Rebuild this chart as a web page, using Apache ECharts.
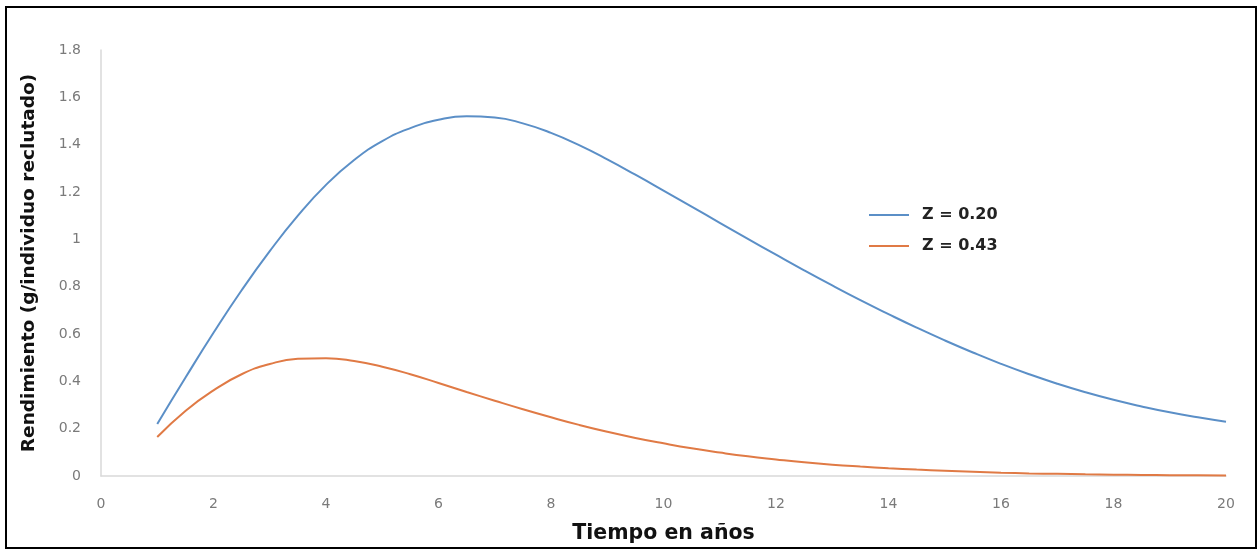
<!DOCTYPE html>
<html>
<head>
<meta charset="utf-8">
<script src="https://cdn.jsdelivr.net/npm/echarts@6/dist/echarts.min.js"></script>
<style>
  html, body { margin: 0; padding: 0; background: #fff; }
  #chart { width: 1260px; height: 550px; }
</style>
</head>
<body>
<div id="chart"></div>
<script>
// Years after recruitment, half-year steps
const years = [1, 1.5, 2, 2.5, 3, 3.5, 4, 4.5, 5, 5.5, 6, 6.5, 7, 7.5, 8, 8.5, 9, 9.5, 10, 10.5,
               11, 11.5, 12, 12.5, 13, 13.5, 14, 14.5, 15, 15.5, 16, 16.5, 17, 17.5, 18, 18.5, 19, 19.5, 20];
// Yield per recruit, Z = 0.20
const yieldZ020 = [0.22, 0.415, 0.605, 0.785, 0.95, 1.10, 1.23, 1.335, 1.415, 1.47, 1.505, 1.52, 1.515, 1.49, 1.45, 1.398, 1.338, 1.273, 1.206, 1.138,
                   1.07, 1.002, 0.935, 0.869, 0.805, 0.743, 0.684, 0.627, 0.573, 0.522, 0.474, 0.43, 0.39, 0.354, 0.322, 0.294, 0.269, 0.248, 0.229];
// Yield per recruit, Z = 0.43
const yieldZ043 = [0.165, 0.275, 0.362, 0.43, 0.473, 0.495, 0.498, 0.486, 0.462, 0.43, 0.393, 0.355, 0.318, 0.282, 0.248, 0.216, 0.187, 0.161, 0.138, 0.117,
                   0.099, 0.083, 0.07, 0.058, 0.048, 0.04, 0.033, 0.027, 0.022, 0.018, 0.014, 0.011, 0.009, 0.007, 0.0055, 0.0045, 0.0035, 0.003, 0.0025];
const seriesNames = ['Z = 0.20', 'Z = 0.43'];
const yTicks = { min: 0, max: 1.8, step: 0.2 };
const xTicks = { min: 0, max: 20, step: 2 };

const pairs = (xs, ys) => xs.map((x, i) => [x, ys[i]]);

const tickFont = { fontFamily: 'DejaVu Sans', fontSize: 14, color: '#7a7a7a' };
const titleFont = { fontFamily: 'DejaVu Sans', fontWeight: 'bold', color: '#111' };

const chart = echarts.init(document.getElementById('chart'));
chart.setOption({
  backgroundColor: '#ffffff',
  animation: false,
  grid: { left: 101, right: 34, top: 50, bottom: 74 },
  graphic: [{
    type: 'rect',
    shape: { x: 6, y: 7, width: 1250, height: 541 },
    style: { fill: 'none', stroke: '#000', lineWidth: 2 },
    silent: true
  }],
  legend: {
    orient: 'vertical',
    left: 864,
    top: 202,
    itemWidth: 40,
    itemHeight: 2,
    itemGap: 15,
    icon: 'rect',
    textStyle: Object.assign({ fontSize: 16, padding: [0, 0, 0, 8] }, titleFont, { color: '#222' }),
    data: seriesNames
  },
  xAxis: {
    type: 'value',
    min: xTicks.min, max: xTicks.max, interval: xTicks.step,
    name: 'Tiempo en años',
    nameLocation: 'middle',
    nameGap: 47,
    nameTextStyle: Object.assign({ fontSize: 20.5 }, titleFont),
    axisLine: { show: true, lineStyle: { color: '#d9d9d9', width: 1.5 } },
    axisTick: { show: false },
    splitLine: { show: false },
    axisLabel: Object.assign({ margin: 21 }, tickFont)
  },
  yAxis: {
    type: 'value',
    min: yTicks.min, max: yTicks.max, interval: yTicks.step,
    name: 'Rendimiento (g/individuo reclutado)',
    nameLocation: 'middle',
    nameGap: 62,
    nameTextStyle: Object.assign({ fontSize: 18.5 }, titleFont),
    axisLine: { show: true, lineStyle: { color: '#d9d9d9', width: 1.5 } },
    axisTick: { show: false },
    splitLine: { show: false },
    axisLabel: Object.assign({ margin: 20 }, tickFont)
  },
  series: [
    {
      name: seriesNames[0],
      type: 'line',
      data: pairs(years, yieldZ020),
      smooth: 0.5,
      showSymbol: false,
      lineStyle: { color: '#5b8fc7', width: 2 },
      itemStyle: { color: '#5b8fc7' }
    },
    {
      name: seriesNames[1],
      type: 'line',
      data: pairs(years, yieldZ043),
      smooth: 0.5,
      showSymbol: false,
      lineStyle: { color: '#e07a45', width: 2 },
      itemStyle: { color: '#e07a45' }
    }
  ]
});
</script>
</body>
</html>
